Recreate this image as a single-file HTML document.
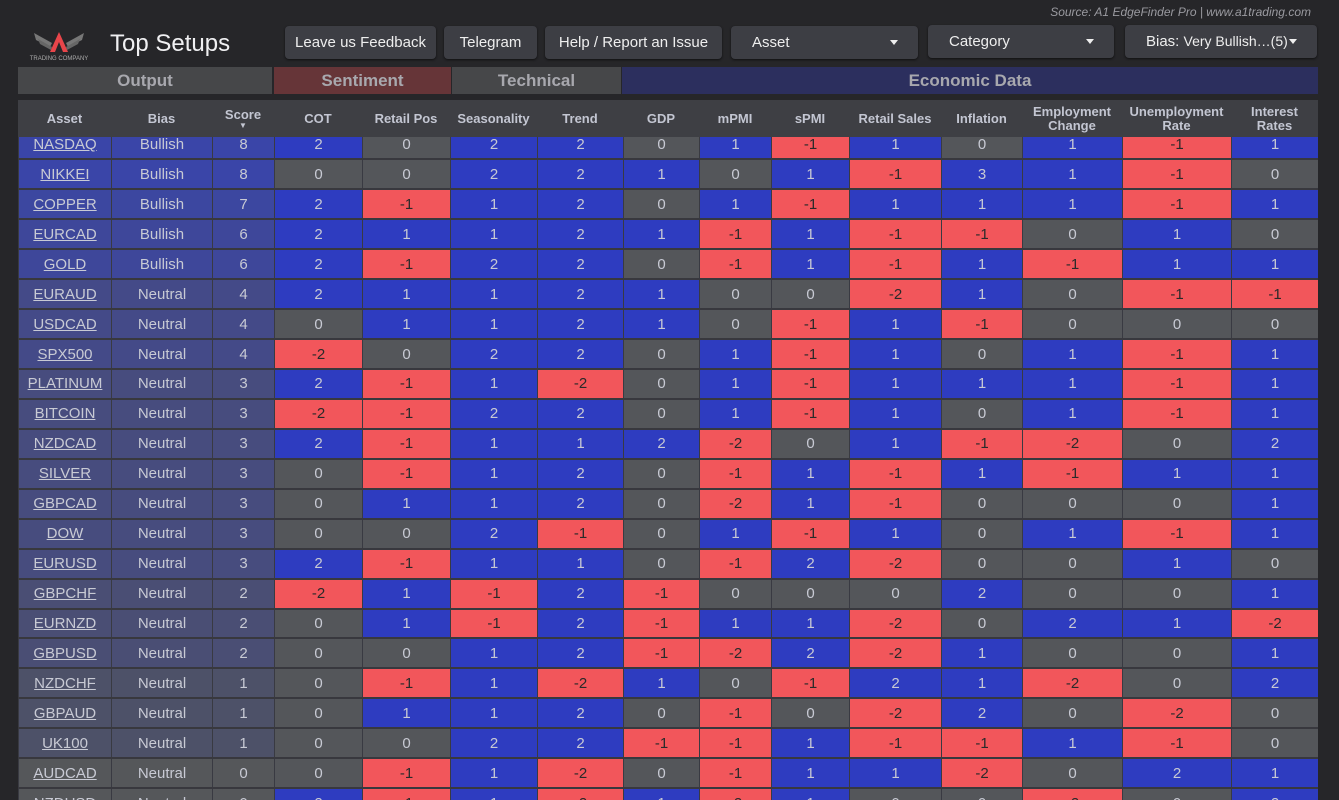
<!DOCTYPE html>
<html><head><meta charset="utf-8">
<style>
*{box-sizing:border-box;margin:0;padding:0}
body{width:1339px;height:800px;background:#262629;font-family:"Liberation Sans",sans-serif;position:relative;overflow:hidden;color:#c8cad4}
.src{position:absolute;right:28px;top:5px;font-size:12px;font-style:italic;color:#9a9aa0}
.title{position:absolute;left:110px;top:30px;font-size:24px;color:#f0f0f2}
.btn{position:absolute;top:26px;height:33px;background:#3d3e44;border-radius:4px;color:#eee;font-size:15px;line-height:33px;box-shadow:0 1px 2px #111}
.btn .c{position:absolute;right:20px;top:14px;border-left:4px solid transparent;border-right:4px solid transparent;border-top:5px solid #eee}
.grp{position:absolute;top:67px;height:27px;line-height:27px;text-align:center;font-weight:bold;font-size:17px;color:#a8a8ae}
#hd{position:absolute;left:18px;top:100px;width:1300px;height:37px;background:#3e3f44;z-index:2}
#hd div{position:absolute;top:0;height:37px;display:flex;align-items:center;justify-content:center;text-align:center;font-size:13px;font-weight:bold;color:#c3c6d2;line-height:14px}
#bd{position:absolute;left:18px;top:137px;width:1300px;height:663px;overflow:hidden}
table{border-collapse:collapse;table-layout:fixed;width:1300px;margin-top:-8px;font-size:15px}
td{height:29.95px;text-align:center;border:1px solid #393a42;border-bottom:2px solid #38383e;color:#c8cad4;padding:0}
td.a{text-decoration:underline}
.b{background:#2e3cc0}.r{background:#f2565b;color:#2a2a2a}.g{background:#54565a}
</style></head><body>
<div class="src">Source: A1 EdgeFinder Pro | www.a1trading.com</div>
<svg style="position:absolute;left:24px;top:28px" width="70" height="34" viewBox="0 0 70 34">
<path d="M10 5 L28 15 L26 19 L12 12Z M60 5 L42 15 L44 19 L58 12Z" fill="#777"/>
<path d="M14 11 L28 19 L27 22 L16 16Z M56 11 L42 19 L43 22 L54 16Z" fill="#666"/>
<path d="M35 4 L44 24 L39 24 L35 14 L31 24 L26 24Z" fill="#e8454a"/>
<text x="35" y="32" font-size="6" fill="#aaa" text-anchor="middle" font-family="Liberation Sans">TRADING COMPANY</text>
</svg>
<div class="title">Top Setups</div>
<div class="btn" style="left:285px;width:151px;text-align:center">Leave us Feedback</div>
<div class="btn" style="left:444px;width:93px;text-align:center">Telegram</div>
<div class="btn" style="left:545px;width:177px;text-align:center">Help / Report an Issue</div>
<div class="btn" style="left:731px;width:187px;padding-left:21px">Asset<span class="c"></span></div>
<div class="btn" style="left:928px;width:186px;padding-left:21px;top:25px">Category<span class="c"></span></div>
<div class="btn" style="left:1125px;width:192px;padding-left:21px;top:25px">Bias: <span style="font-size:14px">Very Bullish…(5)</span><span class="c"></span></div>

<div class="grp" style="left:18px;width:254px;background:#464749">Output</div>
<div class="grp" style="left:274px;width:177px;background:#663538">Sentiment</div>
<div class="grp" style="left:452px;width:169px;background:#464749">Technical</div>
<div class="grp" style="left:622px;width:696px;background:#2c2f5e">Economic Data</div>

<div id="hd">
<div style="left:0;width:93px">Asset</div>
<div style="left:93px;width:101px">Bias</div>
<div style="left:194px;width:62px;flex-direction:column">Score<span style="font-size:8px;line-height:8px">▼</span></div>
<div style="left:256px;width:88px">COT</div>
<div style="left:344px;width:88px">Retail Pos</div>
<div style="left:432px;width:87px">Seasonality</div>
<div style="left:519px;width:86px">Trend</div>
<div style="left:605px;width:76px">GDP</div>
<div style="left:681px;width:72px">mPMI</div>
<div style="left:753px;width:78px">sPMI</div>
<div style="left:831px;width:92px">Retail Sales</div>
<div style="left:923px;width:81px">Inflation</div>
<div style="left:1004px;width:100px">Employment<br>Change</div>
<div style="left:1104px;width:109px">Unemployment<br>Rate</div>
<div style="left:1213px;width:87px">Interest<br>Rates</div>
</div>

<div id="bd"><table>
<colgroup><col style="width:93px"><col style="width:101px"><col style="width:62px"><col style="width:88px"><col style="width:88px"><col style="width:87px"><col style="width:86px"><col style="width:76px"><col style="width:72px"><col style="width:78px"><col style="width:92px"><col style="width:81px"><col style="width:100px"><col style="width:109px"><col style="width:87px"></colgroup>
<tr style="background:#3a45a8"><td class="a">NASDAQ</td><td>Bullish</td><td>8</td><td class="b">2</td><td class="g">0</td><td class="b">2</td><td class="b">2</td><td class="g">0</td><td class="b">1</td><td class="r">-1</td><td class="b">1</td><td class="g">0</td><td class="b">1</td><td class="r">-1</td><td class="b">1</td></tr>
<tr style="background:#3a45a8"><td class="a">NIKKEI</td><td>Bullish</td><td>8</td><td class="g">0</td><td class="g">0</td><td class="b">2</td><td class="b">2</td><td class="b">1</td><td class="g">0</td><td class="b">1</td><td class="r">-1</td><td class="b">3</td><td class="b">1</td><td class="r">-1</td><td class="g">0</td></tr>
<tr style="background:#3c47a0"><td class="a">COPPER</td><td>Bullish</td><td>7</td><td class="b">2</td><td class="r">-1</td><td class="b">1</td><td class="b">2</td><td class="g">0</td><td class="b">1</td><td class="r">-1</td><td class="b">1</td><td class="b">1</td><td class="b">1</td><td class="r">-1</td><td class="b">1</td></tr>
<tr style="background:#3e479a"><td class="a">EURCAD</td><td>Bullish</td><td>6</td><td class="b">2</td><td class="b">1</td><td class="b">1</td><td class="b">2</td><td class="b">1</td><td class="r">-1</td><td class="b">1</td><td class="r">-1</td><td class="r">-1</td><td class="g">0</td><td class="b">1</td><td class="g">0</td></tr>
<tr style="background:#3e479a"><td class="a">GOLD</td><td>Bullish</td><td>6</td><td class="b">2</td><td class="r">-1</td><td class="b">2</td><td class="b">2</td><td class="g">0</td><td class="r">-1</td><td class="b">1</td><td class="r">-1</td><td class="b">1</td><td class="r">-1</td><td class="b">1</td><td class="b">1</td></tr>
<tr style="background:#444a88"><td class="a">EURAUD</td><td>Neutral</td><td>4</td><td class="b">2</td><td class="b">1</td><td class="b">1</td><td class="b">2</td><td class="b">1</td><td class="g">0</td><td class="g">0</td><td class="r">-2</td><td class="b">1</td><td class="g">0</td><td class="r">-1</td><td class="r">-1</td></tr>
<tr style="background:#444a88"><td class="a">USDCAD</td><td>Neutral</td><td>4</td><td class="g">0</td><td class="b">1</td><td class="b">1</td><td class="b">2</td><td class="b">1</td><td class="g">0</td><td class="r">-1</td><td class="b">1</td><td class="r">-1</td><td class="g">0</td><td class="g">0</td><td class="g">0</td></tr>
<tr style="background:#444a88"><td class="a">SPX500</td><td>Neutral</td><td>4</td><td class="r">-2</td><td class="g">0</td><td class="b">2</td><td class="b">2</td><td class="g">0</td><td class="b">1</td><td class="r">-1</td><td class="b">1</td><td class="g">0</td><td class="b">1</td><td class="r">-1</td><td class="b">1</td></tr>
<tr style="background:#474c7e"><td class="a">PLATINUM</td><td>Neutral</td><td>3</td><td class="b">2</td><td class="r">-1</td><td class="b">1</td><td class="r">-2</td><td class="g">0</td><td class="b">1</td><td class="r">-1</td><td class="b">1</td><td class="b">1</td><td class="b">1</td><td class="r">-1</td><td class="b">1</td></tr>
<tr style="background:#474c7e"><td class="a">BITCOIN</td><td>Neutral</td><td>3</td><td class="r">-2</td><td class="r">-1</td><td class="b">2</td><td class="b">2</td><td class="g">0</td><td class="b">1</td><td class="r">-1</td><td class="b">1</td><td class="g">0</td><td class="b">1</td><td class="r">-1</td><td class="b">1</td></tr>
<tr style="background:#474c7e"><td class="a">NZDCAD</td><td>Neutral</td><td>3</td><td class="b">2</td><td class="r">-1</td><td class="b">1</td><td class="b">1</td><td class="b">2</td><td class="r">-2</td><td class="g">0</td><td class="b">1</td><td class="r">-1</td><td class="r">-2</td><td class="g">0</td><td class="b">2</td></tr>
<tr style="background:#474c7e"><td class="a">SILVER</td><td>Neutral</td><td>3</td><td class="g">0</td><td class="r">-1</td><td class="b">1</td><td class="b">2</td><td class="g">0</td><td class="r">-1</td><td class="b">1</td><td class="r">-1</td><td class="b">1</td><td class="r">-1</td><td class="b">1</td><td class="b">1</td></tr>
<tr style="background:#474c7e"><td class="a">GBPCAD</td><td>Neutral</td><td>3</td><td class="g">0</td><td class="b">1</td><td class="b">1</td><td class="b">2</td><td class="g">0</td><td class="r">-2</td><td class="b">1</td><td class="r">-1</td><td class="g">0</td><td class="g">0</td><td class="g">0</td><td class="b">1</td></tr>
<tr style="background:#474c7e"><td class="a">DOW</td><td>Neutral</td><td>3</td><td class="g">0</td><td class="g">0</td><td class="b">2</td><td class="r">-1</td><td class="g">0</td><td class="b">1</td><td class="r">-1</td><td class="b">1</td><td class="g">0</td><td class="b">1</td><td class="r">-1</td><td class="b">1</td></tr>
<tr style="background:#474c7e"><td class="a">EURUSD</td><td>Neutral</td><td>3</td><td class="b">2</td><td class="r">-1</td><td class="b">1</td><td class="b">1</td><td class="g">0</td><td class="r">-1</td><td class="b">2</td><td class="r">-2</td><td class="g">0</td><td class="g">0</td><td class="b">1</td><td class="g">0</td></tr>
<tr style="background:#4a4e74"><td class="a">GBPCHF</td><td>Neutral</td><td>2</td><td class="r">-2</td><td class="b">1</td><td class="r">-1</td><td class="b">2</td><td class="r">-1</td><td class="g">0</td><td class="g">0</td><td class="g">0</td><td class="b">2</td><td class="g">0</td><td class="g">0</td><td class="b">1</td></tr>
<tr style="background:#4a4e74"><td class="a">EURNZD</td><td>Neutral</td><td>2</td><td class="g">0</td><td class="b">1</td><td class="r">-1</td><td class="b">2</td><td class="r">-1</td><td class="b">1</td><td class="b">1</td><td class="r">-2</td><td class="g">0</td><td class="b">2</td><td class="b">1</td><td class="r">-2</td></tr>
<tr style="background:#4a4e74"><td class="a">GBPUSD</td><td>Neutral</td><td>2</td><td class="g">0</td><td class="g">0</td><td class="b">1</td><td class="b">2</td><td class="r">-1</td><td class="r">-2</td><td class="b">2</td><td class="r">-2</td><td class="b">1</td><td class="g">0</td><td class="g">0</td><td class="b">1</td></tr>
<tr style="background:#4d5168"><td class="a">NZDCHF</td><td>Neutral</td><td>1</td><td class="g">0</td><td class="r">-1</td><td class="b">1</td><td class="r">-2</td><td class="b">1</td><td class="g">0</td><td class="r">-1</td><td class="b">2</td><td class="b">1</td><td class="r">-2</td><td class="g">0</td><td class="b">2</td></tr>
<tr style="background:#4d5168"><td class="a">GBPAUD</td><td>Neutral</td><td>1</td><td class="g">0</td><td class="b">1</td><td class="b">1</td><td class="b">2</td><td class="g">0</td><td class="r">-1</td><td class="g">0</td><td class="r">-2</td><td class="b">2</td><td class="g">0</td><td class="r">-2</td><td class="g">0</td></tr>
<tr style="background:#4d5168"><td class="a">UK100</td><td>Neutral</td><td>1</td><td class="g">0</td><td class="g">0</td><td class="b">2</td><td class="b">2</td><td class="r">-1</td><td class="r">-1</td><td class="b">1</td><td class="r">-1</td><td class="r">-1</td><td class="b">1</td><td class="r">-1</td><td class="g">0</td></tr>
<tr style="background:#55575a"><td class="a">AUDCAD</td><td>Neutral</td><td>0</td><td class="g">0</td><td class="r">-1</td><td class="b">1</td><td class="r">-2</td><td class="g">0</td><td class="r">-1</td><td class="b">1</td><td class="b">1</td><td class="r">-2</td><td class="g">0</td><td class="b">2</td><td class="b">1</td></tr>
<tr style="background:#55575a"><td class="a">NZDUSD</td><td>Neutral</td><td>0</td><td class="b">2</td><td class="r">-1</td><td class="b">1</td><td class="r">-2</td><td class="b">1</td><td class="r">-2</td><td class="b">1</td><td class="g">0</td><td class="g">0</td><td class="r">-2</td><td class="g">0</td><td class="b">2</td></tr>
</table></div>
</body></html>
